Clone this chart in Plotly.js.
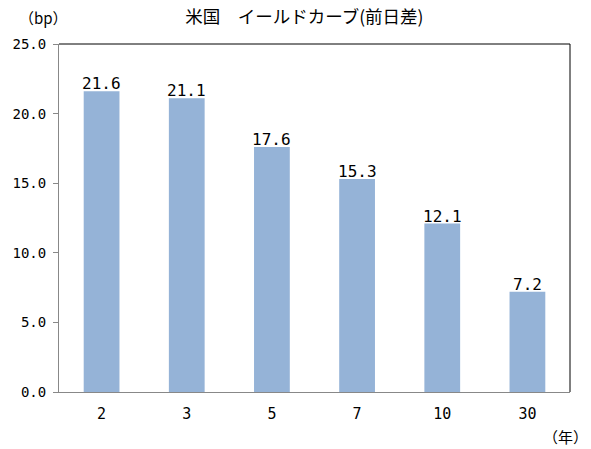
<!DOCTYPE html>
<html>
<head>
<meta charset="utf-8">
<script src="https://cdn.plot.ly/plotly-3.0.1.min.js"></script>
<style>html,body{margin:0;padding:0;background:#fff;}#chart{width:591px;height:449px;}</style>
</head>
<body>
<div id="chart"></div>
<script>
const categories = ["2", "3", "5", "7", "10", "30"];
const values = [21.6, 21.1, 17.6, 15.3, 12.1, 7.2];
const titleText = "米国　イールドカーブ(前日差)";
const yUnit = "（bp）";
const xUnit = "（年）";

const FONT = "'Noto Sans CJK JP', 'Noto Sans', sans-serif";
const MONO = "'DejaVu Sans Mono', 'Liberation Mono', monospace";

const trace = {
  type: "bar",
  x: categories,
  y: values,
  marker: { color: "#95b3d7" },
  hoverinfo: "none"
};

// category axis: annotation x given as category index
const labelAnnotations = categories.map((c, i) => ({
  x: i, y: values[i], xref: "x", yref: "y",
  text: values[i].toFixed(1),
  showarrow: false, xanchor: "center", yanchor: "bottom", yshift: -4,
  font: { family: MONO, size: 16, color: "#000" }
}));

const layout = {
  width: 591, height: 449,
  margin: { l: 59, r: 21, t: 44, b: 57 },
  paper_bgcolor: "#fff", plot_bgcolor: "#fff",
  showlegend: false,
  bargap: 0.58,
  font: { family: FONT, color: "#000" },
  title: { text: titleText, x: 0.515, xanchor: "center", y: 0.962, yanchor: "middle", font: { family: FONT, size: 17.5, color: "#000" } },
  xaxis: {
    type: "category",
    range: [-0.5, categories.length - 0.5],
    showline: true, linecolor: "#888", linewidth: 1,
    ticks: "", showgrid: false, zeroline: false,
    ticklabelstandoff: 8,
    tickfont: { family: MONO, size: 15, color: "#000" }
  },
  yaxis: {
    range: [0, 25], dtick: 5, tickformat: ".1f",
    showline: true, linecolor: "#888", linewidth: 1,
    ticks: "outside", ticklen: 5, tickcolor: "#888",
    showgrid: false, zeroline: false,
    ticklabelstandoff: 4,
    tickfont: { family: MONO, size: 14, color: "#000" }
  },
  shapes: [
    { type: "line", xref: "paper", yref: "paper", x0: 0, x1: 1, y0: 1, y1: 1, line: { color: "#000", width: 1 } },
    { type: "line", xref: "paper", yref: "paper", x0: 1, x1: 1, y0: 0, y1: 1, line: { color: "#000", width: 1 } }
  ],
  annotations: labelAnnotations.concat([
    { text: yUnit, xref: "paper", yref: "paper", x: -0.03, y: 1.077, xanchor: "center", yanchor: "middle", showarrow: false, font: { family: FONT, size: 15, color: "#000" } },
    { text: xUnit, xref: "paper", yref: "paper", x: 1.04, y: -0.127, xanchor: "right", yanchor: "middle", showarrow: false, font: { family: FONT, size: 15, color: "#000" } }
  ])
};

Plotly.newPlot("chart", [trace], layout, { displayModeBar: false, staticPlot: true });
</script>
</body>
</html>
